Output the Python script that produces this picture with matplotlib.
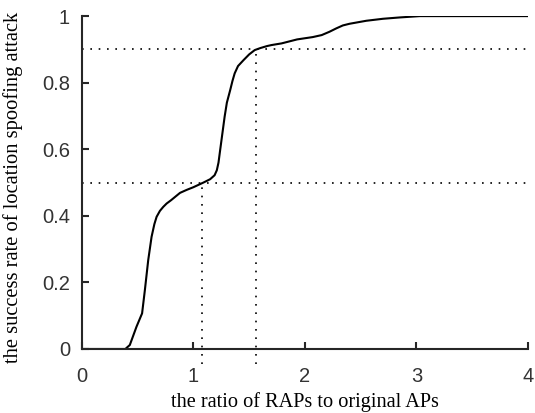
import numpy as np
import matplotlib.pyplot as plt

# values
ratio = [0.0, 0.39, 0.43, 0.49, 0.54, 0.565, 0.595, 0.625, 0.65, 0.67, 0.70, 0.73,
         0.76, 0.80, 0.84, 0.88, 0.94, 1.00, 1.09, 1.15, 1.19, 1.21, 1.225, 1.24,
         1.28, 1.30, 1.33, 1.35, 1.37, 1.40, 1.45, 1.50, 1.55, 1.60, 1.66, 1.70,
         1.79, 1.93, 2.07, 2.15, 2.22, 2.28, 2.34, 2.40, 2.45, 2.55, 2.70, 2.85,
         3.03, 3.5, 4.0]
success = [0.0, 0.0, 0.012, 0.067, 0.107, 0.177, 0.267, 0.337, 0.375, 0.397, 0.415, 0.427,
           0.437, 0.447, 0.458, 0.469, 0.478, 0.486, 0.50, 0.51, 0.522, 0.537, 0.56, 0.598,
           0.698, 0.74, 0.778, 0.805, 0.828, 0.85, 0.868, 0.885, 0.898, 0.904, 0.91, 0.913,
           0.918, 0.93, 0.937, 0.943, 0.953, 0.963, 0.972, 0.977, 0.980, 0.986, 0.992, 0.996,
           1.0, 1.0, 1.0]

levels = [0.5, 0.9]
marks = [1.08, 1.56]

fig = plt.figure(figsize=(5.35, 4.13), dpi=100)
ax = fig.add_axes([0.153, 0.155, 0.834, 0.806])

ax.plot(ratio, success, color='black', linewidth=1.5)

for lv, mk in zip(levels, marks):
    ax.plot([0, 4], [lv, lv], color='black', linestyle=(0, (1, 4)), linewidth=1.2)
    ax.plot([mk, mk], [-0.045, lv], color='black', linestyle=(0, (1, 4)),
            linewidth=1.2, clip_on=False)

ax.set_xlim(0, 4)
ax.set_ylim(0, 1)
ax.set_xticks([0, 1, 2, 3, 4])
ax.set_yticks([0, 0.2, 0.4, 0.6, 0.8, 1])
ax.set_yticklabels(['0', '0.2', '0.4', '0.6', '0.8', '1'])

for s in ['top', 'right']:
    ax.spines[s].set_visible(False)
for s in ['left', 'bottom']:
    ax.spines[s].set_linewidth(1.5)
    ax.spines[s].set_color('#262626')

ax.tick_params(direction='in', length=5, width=1.5, color='#262626', labelsize=14.5)
ax.tick_params(axis='x', pad=13)
ax.tick_params(axis='y', pad=8.5)
for lab in ax.get_xticklabels() + ax.get_yticklabels():
    lab.set_family('Liberation Sans')
    lab.set_color('#333333')

ax.set_xlabel('the ratio of RAPs to original APs', family='Liberation Serif',
              fontsize=14.6, labelpad=4)
ax.set_ylabel('the success rate of location spoofing attack', family='Liberation Serif',
              fontsize=14.8)
ax.yaxis.set_label_coords(-0.132, 0.485)

fig.savefig('out.png', dpi=100)
